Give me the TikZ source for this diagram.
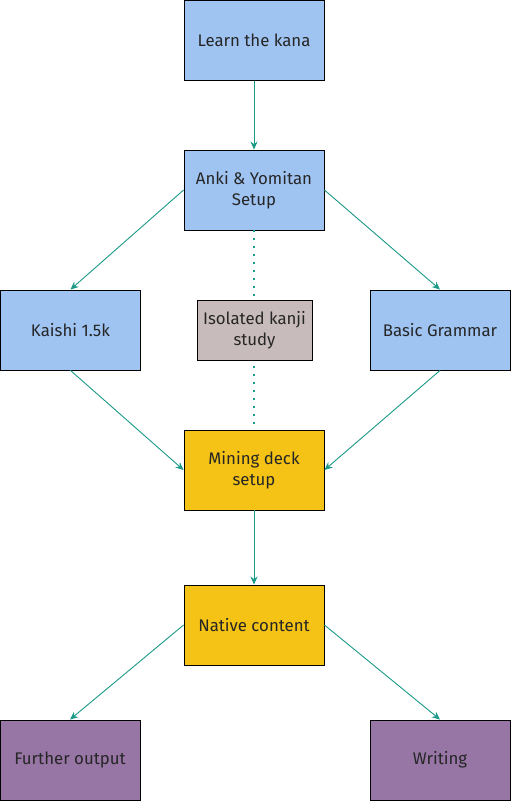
\documentclass[tikz,border=0pt]{standalone}
\usepackage{fontspec}
\setmainfont{Fira Sans}
\usepackage{tikz}
\usetikzlibrary{arrows.meta}
\definecolor{kanablue}{HTML}{A0C4F2}
\definecolor{mineyellow}{HTML}{F5C315}
\definecolor{outpurple}{HTML}{9775A5}
\definecolor{kanjigray}{HTML}{C8BBBB}
\definecolor{linkteal}{HTML}{1A9987}
\tikzset{
    stage/.style={rectangle,draw,line width=0.9pt,minimum width=140pt,minimum height=80pt,align=center,font=\fontsize{16.8}{21}\selectfont,text=black!85},
    edge/.style={->,>={Stealth[length=8pt,width=7pt]},line width=0.9pt,draw=linkteal}
}

\begin{document}
\begin{tikzpicture}[
    x=1pt, y=-1pt,
    blue/.style={stage,fill=kanablue},
    yellow/.style={stage,fill=mineyellow},
    purple/.style={stage,fill=outpurple},
    side/.style={dash pattern=on 1.4pt off 6.6pt,line width=1.4pt,draw=linkteal}
]
\useasboundingbox (0,0) rectangle (511,801);

% Phan dau: kana va cong cu
\node[blue] (kana) at (254,40.5) {Learn the kana};
\node[blue] (anki) at (254,190) {Anki \& Yomitan\\Setup};

% Hang giua
\node[blue] (kaishi) at (70.5,330) {Kaishi 1.5k};
\node[blue] (grammar) at (440,330) {Basic Grammar};

% Duong cham di sau o kanji
\draw[side] (anki.south) -- (254,430);
\node[stage,fill=kanjigray,minimum width=115pt,minimum height=60pt] (kanji) at (254.5,330) {Isolated kanji\\study};

% Mining va noi dung
\node[yellow] (mining) at (254,470) {Mining deck\\setup};
\node[yellow] (native) at (254,625) {Native content};

% Dau ra
\node[purple] (further) at (70,760) {Further output};
\node[purple] (writing) at (440,760) {Writing};

% Cac mui ten
\draw[edge] (kana) -- (anki);
\draw[edge] (anki.west) -- (kaishi.north);
\draw[edge] (anki.east) -- (grammar.north);
\draw[edge] (kaishi.south) -- (mining.west);
\draw[edge] (grammar.south) -- (mining.east);
\draw[edge] (mining) -- (native);
\draw[edge] (native.west) -- (further.north);
\draw[edge] (native.east) -- (writing.north);
\end{tikzpicture}
\end{document}
